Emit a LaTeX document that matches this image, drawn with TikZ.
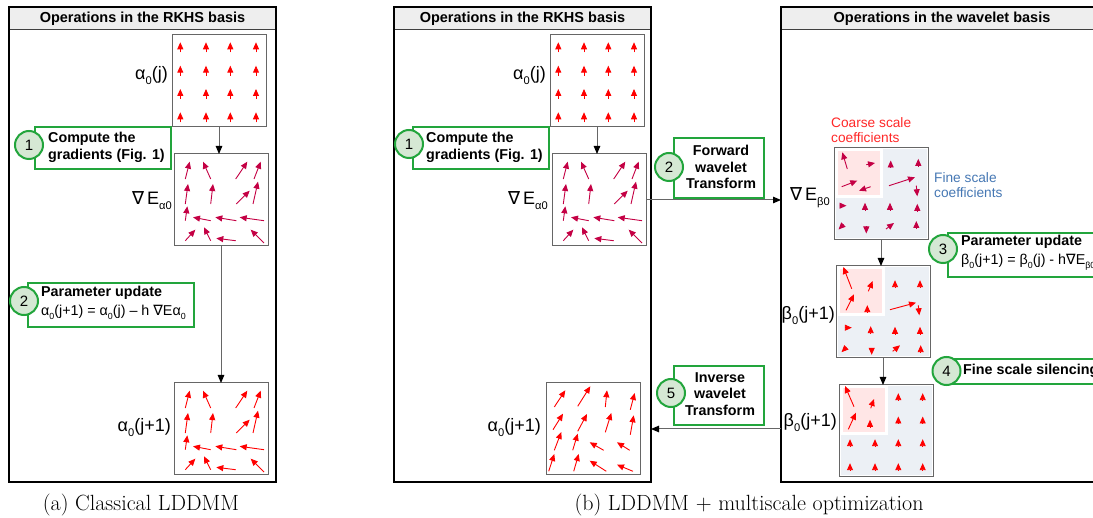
\documentclass[tikz,border=0pt]{standalone}
\usepackage{fontspec}
\newfontfamily\arial{Liberation Sans}
\newfontfamily\dejavu{DejaVu Sans}
\usetikzlibrary{arrows.meta}
\definecolor{callgreen}{RGB}{34,165,60}
\definecolor{circfill}{RGB}{213,232,212}
\definecolor{fieldred}{RGB}{255,0,0}
\definecolor{fieldcrim}{RGB}{196,0,68}
\definecolor{finefill}{RGB}{236,240,245}
\definecolor{coarsefill}{RGB}{255,230,230}
\definecolor{coarsetxt}{RGB}{255,40,40}
\definecolor{finetxt}{RGB}{70,120,180}
\definecolor{titlefill}{RGB}{238,238,238}
\newcommand\nab{{\dejavu\symbol{"2207}}}
\newcommand\lsub[1]{\raisebox{-0.28em}{\scalebox{0.62}{#1}}}
\tikzset{
  frame/.style={draw=black, line width=2.8pt, anchor=north west, inner sep=0pt, outer sep=0pt},
  titletxt/.style={font=\arial\bfseries\fontsize{14.5}{17}\selectfont, inner sep=0pt},
  fbox/.style={draw=black!60, line width=1pt, fill=white, anchor=north west, inner sep=0pt, outer sep=0pt, minimum width=94pt, minimum height=92pt},
  callout/.style={draw=callgreen, line width=2pt, fill=white, inner sep=0pt, anchor=north west},
  stepc/.style={circle, draw=callgreen, line width=2pt, fill=circfill, minimum size=28pt, inner sep=0pt, font=\arial\fontsize{15}{17}\selectfont},
  conn/.style={draw=black!60, line width=1pt, -{Triangle[length=8pt,width=6.5pt,color=black]}},
  lbl/.style={font=\arial\fontsize{18}{20}\selectfont, anchor=east, inner sep=0pt},
  ctext/.style={font=\arial\bfseries\fontsize{14.3}{17}\selectfont, inner sep=0pt, align=left, anchor=west},
  cctext/.style={font=\arial\bfseries\fontsize{14.3}{16.5}\selectfont, inner sep=0pt, align=center},
  fa/.style={line width=0.9pt, -{Triangle[length=7pt,width=6pt]}},
}
\newcommand\mkpanel[4]{%
  \fill[white] (#2,7) rectangle (#3,482);
  \fill[titlefill] (#2,7) rectangle (#3,29);
  \draw[black!75,line width=0.8pt] (#2,29) -- (#3,29);
  \node[titletxt] at ({(#2+#3)/2},18.5) {#4};
  \node[frame, minimum width={#3-#2}, minimum height=475] (#1) at (#2,7) {};
}
\newcommand\fldA[2]{%
  \begin{scope}[shift={(#1.north west)}]
    \foreach \x in {8.3,34,58.3,84} \foreach \y in {7.3,30.7,54,77.3}
      \draw[fa,#2] (\x,\y+10) -- (\x,\y);
  \end{scope}}
\newcommand\fldB[2]{%
  \begin{scope}[shift={(#1.north west)}]
    \foreach \a/\b/\c/\d in {11.3/25/15.7/7.7, 36.7/25/29/7.7, 61.7/25/73.3/7.7, 80/25/86.7/7.7,
      11.3/50/14/30, 36.7/50/39/30, 62.3/50/75.7/36.7, 79/50/84/27.7,
      11.3/66.7/13.3/52.3, 36.7/66.7/19/63.3, 62.3/66.7/41.3/63.3, 90/66.7/65.7/63.3,
      11.3/86.7/21.3/75.7, 36.7/86.7/30/73.3, 61.7/86.7/42.3/84.3, 90/89/76.7/75.7}
      \draw[fa,#2] (\a,\b) -- (\c,\d);
  \end{scope}}
\newcommand\fldC[2]{%
  \begin{scope}[shift={(#1.north west)}]
    \foreach \a/\b/\c/\d in {8.3/24/19.3/7.3, 31.7/23.3/44.3/3.3, 59.3/24/61/7.3, 84.3/26.7/88.7/10,
      7/46.7/17/30.7, 31.7/48.3/41/31, 59.3/49.3/65.3/30, 84.3/51.7/87.7/32.3,
      8.3/67.3/15.3/49, 26.7/67.3/31.7/50.7, 57.7/67.3/43.7/59.3, 83.7/67.3/71/59.3,
      2.7/88.3/8.3/71, 27.7/88.3/32.7/71, 60.3/88.3/43.7/77.7, 87/88.3/71/81.7}
      \draw[fa,#2] (\a,\b) -- (\c,\d);
  \end{scope}}
\newcommand\wavebg[1]{%
  \begin{scope}[shift={(#1.north west)}]
    \fill[finefill] (1.5,1.5) rectangle (92.5,90.5);
    \fill[white] (1.5,1.5) rectangle (49,50);
    \fill[coarsefill] (3.5,3.5) rectangle (46,47);
  \end{scope}}
\newcommand\fldD[2]{%
  \begin{scope}[shift={(#1.north west)}]
    \foreach \a/\b/\c/\d in {13.3/21/8.3/4.3, 32.3/16.7/41/15, 7.7/38.7/23.3/32.7, 36.7/38.7/25/42.7,
      56.7/19.5/56.7/12.5, 84.3/17.8/84.3/10.8, 55/37.7/81/29.3, 82.3/37.7/83.3/48.3,
      5.5/57.7/12.5/57.7, 31/61.8/31/54.8, 56/61.8/56/54.8, 83.3/62.8/83.3/55.8,
      9.5/76.5/4.5/81.5, 32.3/78.5/32.3/85.5, 52/81/60/75, 82.3/80/82.3/73}
      \draw[fa,#2] (\a,\b) -- (\c,\d);
  \end{scope}}
\newcommand\fldE[2]{%
  \begin{scope}[shift={(#1.north west)}]
    \foreach \a/\b/\c/\d in {15.7/22.7/7.3/1, 32.3/25.3/36.7/15, 10/44.3/18/28.3, 31.3/46.2/31.3/39.2,
      59/21.2/59/14.2, 84/21.2/84/14.2, 54/43.7/80/36.7, 82.3/39.3/83.3/49.3,
      8.8/61.7/15.8/61.7, 34.7/67.2/34.7/60.2, 59/67.8/59/60.8, 84/67.8/84/60.8,
      10.5/81.2/5.5/86.2, 35.7/81.8/35.7/88.8, 56.7/85.3/64/79.3, 84.7/87/84.7/79.2}
      \draw[fa,#2] (\a,\b) -- (\c,\d);
  \end{scope}}
\newcommand\fldF[2]{%
  \begin{scope}[shift={(#1.north west)}]
    \foreach \a/\b/\c/\d in {15/21.7/6/1, 31.7/23.3/35/14, 9.3/44.3/17/27.7, 31/41.8/31/34.8}
      \draw[fa,#2] (\a,\b) -- (\c,\d);
    \foreach \x/\y in {59.3/11.7, 83.7/11.7, 59.3/35, 83.7/35, 11/57.7, 36/57.7, 59.3/57.7, 83.7/57.7,
      11/81.7, 36/81.7, 59.3/81.7, 83.7/81.7}
      \draw[fa,#2] (\x,\y+3.5) -- (\x,\y-3.5);
  \end{scope}}
\begin{document}
\begin{tikzpicture}[x=1pt,y=-1pt]
\useasboundingbox (0,0) rectangle (1093,518);
\clip (0,0) rectangle (1093,518);
\fill[white] (0,0) rectangle (1093,518);

% ---------- panel (a)
\mkpanel{pa}{9}{276}{Operations in the RKHS basis}
\node[fbox] (a1) at (172,35) {};
\fldA{a1}{fieldred}
\node[lbl] at (168,76) {α\lsub{0}(j)};
\node[fbox] (a2) at (174,154) {};
\fldB{a2}{fieldcrim}
\node[lbl] at (172,201) {\nab\,E\lsub{α0}};
\node[fbox] (a3) at (174,383) {};
\fldB{a3}{fieldred}
\node[lbl] at (171,428) {α\lsub{0}(j+1)};
\draw[conn] (a1.south) -- (a1.south |- a2.north);
\draw[conn] (a2.south) -- (a2.south |- a3.north);
\node[callout, minimum width=136pt, minimum height=42pt] (c1a) at (34,126) {};
\node[stepc] (s1a) at (29,145) {1};
\node[ctext] (t1a) at (48,147) {Compute the\\gradients (Fig. 1)};
\node[callout, minimum width=166pt, minimum height=44pt] (c2a) at (27,282) {};
\node[stepc] (s2a) at (24,301) {2};
\node[ctext, font=\arial\bfseries\fontsize{14.3}{19}\selectfont] (t2a) at (41,303)
  {Parameter update\\{\mdseries α\lsub{0}(j+1) = α\lsub{0}(j) – h \nab Eα\lsub{0}}};

% ---------- panel (b) RKHS
\mkpanel{pb}{394}{651}{Operations in the RKHS basis}
\node[fbox] (b1) at (550,35) {};
\fldA{b1}{fieldred}
\node[lbl] at (546,76) {α\lsub{0}(j)};
\node[fbox] (b2) at (552,154) {};
\fldB{b2}{fieldcrim}
\node[lbl] at (548,201) {\nab\,E\lsub{α0}};
\node[fbox] (b3) at (546,383) {};
\fldC{b3}{fieldred}
\node[lbl] at (541,428) {α\lsub{0}(j+1)};
\draw[conn] (b1.south) -- (b1.south |- b2.north);
\node[callout, minimum width=136pt, minimum height=42pt] (c1b) at (412,126) {};
\node[stepc] (s1b) at (409,144) {1};
\node[ctext] (t1b) at (426,147) {Compute the\\gradients (Fig. 1)};

% ---------- panel (b) wavelet
\mkpanel{pw}{781}{1103}{Operations in the wavelet basis}
\node[fbox] (w1) at (834,148) {};
\wavebg{w1}
\fldD{w1}{fieldcrim}
\node[lbl] at (830,198) {\nab\,E\lsub{β0}};
\node[fbox] (w2) at (836,266) {};
\wavebg{w2}
\fldE{w2}{fieldred}
\node[lbl] at (835,316) {β\lsub{0}(j+1)};
\node[fbox] (w3) at (839,385) {};
\wavebg{w3}
\fldF{w3}{fieldred}
\node[lbl] at (837,423) {β\lsub{0}(j+1)};
\draw[conn] (w1.south) -- (w1.south |- w2.north);
\draw[conn] (w2.south) -- (w2.south |- w3.north);
\node[font=\arial\fontsize{13.7}{15}\selectfont, text=coarsetxt, align=left, anchor=west, inner sep=0pt] (coarse) at (831,130.5) {Coarse scale\\coefficients};
\node[font=\arial\fontsize{13.7}{15}\selectfont, text=finetxt, align=left, anchor=west, inner sep=0pt] (fine) at (934,185.5) {Fine scale\\coefficients};
\node[callout, minimum width=200pt, minimum height=44pt] (c3) at (947,232) {};
\node[stepc] (s3) at (943,249) {3};
\node[ctext, font=\arial\bfseries\fontsize{14.3}{19}\selectfont] (t3) at (961,252.5)
  {Parameter update\\{\mdseries β\lsub{0}(j+1) = β\lsub{0}(j) - h\nab E\lsub{β0}}};
\node[callout, minimum width=200pt, minimum height=25pt] (c4) at (947,358) {};
\node[stepc] (s4) at (946.5,371) {4};
\node[ctext] (t4) at (963,370.5) {Fine scale silencing};

% ---------- transforms between panels
\node[callout, minimum width=90pt, minimum height=60pt] (cf) at (673,137) {};
\node[stepc] (sf) at (669,167) {2};
\node[cctext] (tf) at (721,167) {Forward\\wavelet\\Transform};
\node[callout, minimum width=90pt, minimum height=59pt] (ci) at (673,365) {};
\node[stepc] (si) at (671,393) {5};
\node[cctext] (ti) at (720,394) {Inverse\\wavelet\\Transform};
\draw[conn] (b2.east) -- (b2.east -| pw.west);
\draw[conn] (b3.east -| pw.west) -- (b3.east -| pb.east);

% ---------- captions
\node[font=\fontsize{22}{26}\selectfont, inner sep=0pt] (capa) at (141,505) {(a) Classical LDDMM};
\node[font=\fontsize{22}{26}\selectfont, inner sep=0pt] (capb) at (749,505) {(b) LDDMM + multiscale optimization};
\end{tikzpicture}
\end{document}
